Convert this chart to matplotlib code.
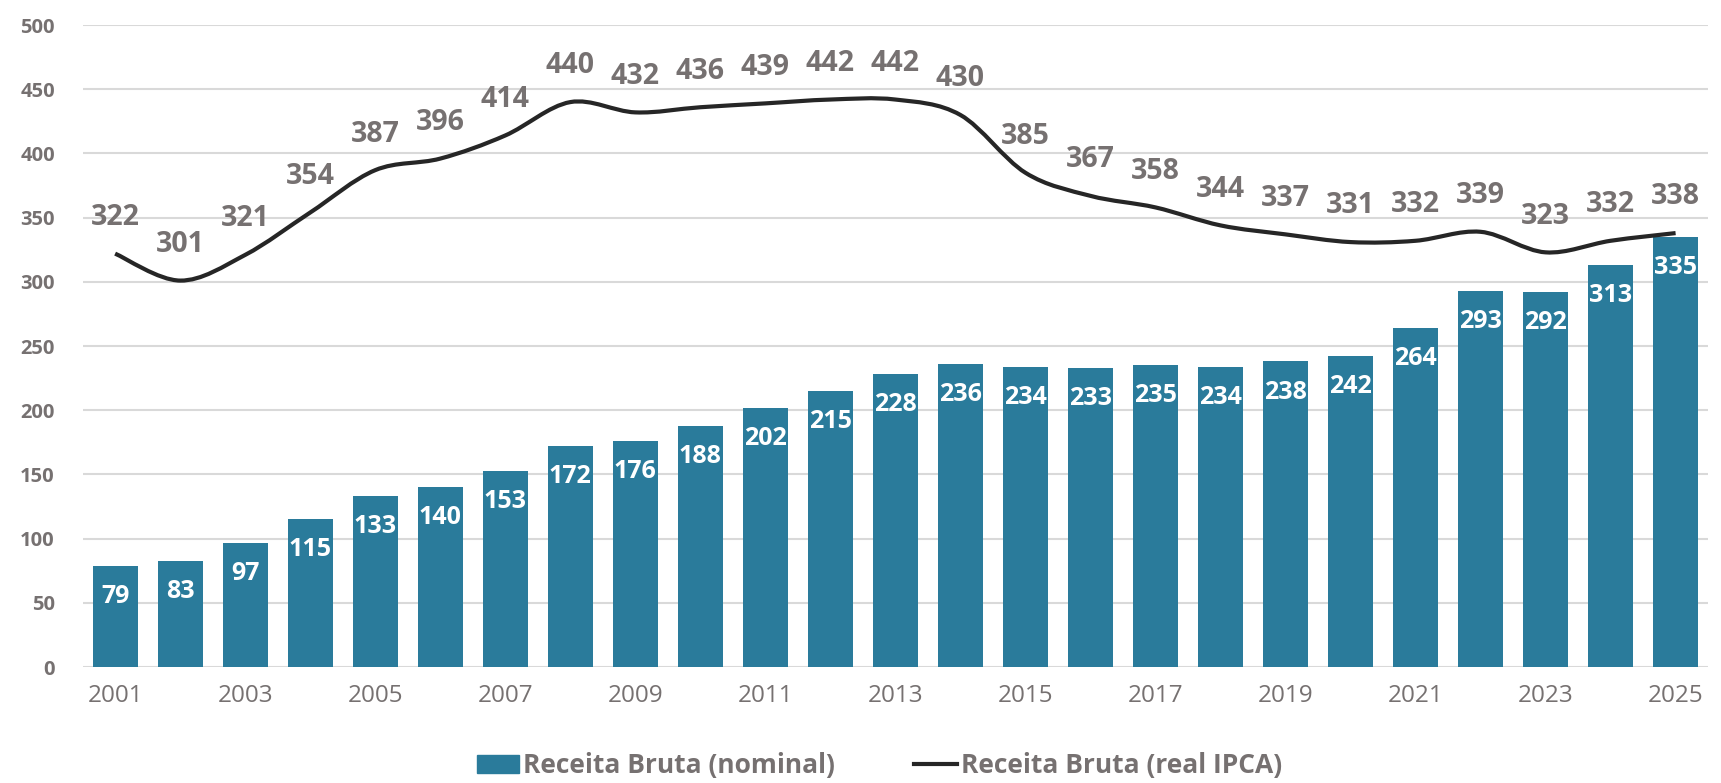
import numpy as np
import matplotlib
matplotlib.use('Agg')
import matplotlib.pyplot as plt
from matplotlib.path import Path
from matplotlib.patches import PathPatch, Patch
from matplotlib.lines import Line2D

plt.rcParams['font.family'] = ['Open Sans', 'DejaVu Sans']

years = list(range(2001, 2026))
nominal = [79, 83, 97, 115, 133, 140, 153, 172, 176, 188, 202, 215, 228,
           236, 234, 233, 235, 234, 238, 242, 264, 293, 292, 313, 335]
real_ipca = [322, 301, 321, 354, 387, 396, 414, 440, 432, 436, 439, 442, 442,
             430, 385, 367, 358, 344, 337, 331, 332, 339, 323, 332, 338]
xtick_labels = [str(y) for y in years[::2]]

bar_color = '#2A7B9B'
gray = '#767171'


def smooth_path(x, y, t=1 / 6):
    # bezier curve through the points (excel style smoothed line)
    x = np.asarray(x, float)
    y = np.asarray(y, float)
    n = len(x)
    verts = [(x[0], y[0])]
    codes = [Path.MOVETO]
    for i in range(n - 1):
        p0 = i - 1 if i > 0 else i
        p3 = i + 2 if i + 2 < n else i + 1
        c1 = (x[i] + (x[i + 1] - x[p0]) * t, y[i] + (y[i + 1] - y[p0]) * t)
        c2 = (x[i + 1] - (x[p3] - x[i]) * t, y[i + 1] - (y[p3] - y[i]) * t)
        verts += [c1, c2, (x[i + 1], y[i + 1])]
        codes += [Path.CURVE4] * 3
    return Path(verts, codes)


fig = plt.figure(figsize=(17.21, 7.83), dpi=100)
ax = fig.add_axes([0.048, 0.148, 0.9445, 0.82])

xs = np.arange(len(years))
ax.bar(xs, nominal, width=0.69, color=bar_color, zorder=2)
for x, v in zip(xs, nominal):
    ax.annotate(str(v), (x, v), xytext=(0, -22), textcoords='offset points',
                ha='center', va='center', color='white', fontsize=18,
                fontweight='bold', zorder=4)

ax.add_patch(PathPatch(smooth_path(xs, real_ipca), fill=False,
                       edgecolor='#262626', lw=3, zorder=3))
for x, v in zip(xs, real_ipca):
    ax.annotate(str(v), (x, v), xytext=(0, 26), textcoords='offset points',
                ha='center', va='center', color=gray, fontsize=20.5,
                fontweight='bold', zorder=4)

ax.set_xlim(-0.5, len(years) - 0.5)
ax.set_ylim(0, 500)
ax.set_yticks(range(0, 501, 50))
ax.set_xticks(xs[::2])
ax.set_xticklabels(xtick_labels)
ax.grid(axis='y', color='#D9D9D9', lw=1.5, zorder=0)
ax.set_axisbelow(True)
for s in ax.spines.values():
    s.set_visible(False)
ax.tick_params(axis='both', length=0)
ax.tick_params(axis='y', labelsize=14.5, labelcolor=gray, pad=20)
ax.tick_params(axis='x', labelsize=17.5, labelcolor=gray, pad=12)
for lab in ax.get_yticklabels():
    lab.set_fontweight('bold')

handles = [Patch(color=bar_color, label='Receita Bruta (nominal)'),
           Line2D([], [], color='#262626', lw=3, label='Receita Bruta (real IPCA)')]
leg = fig.legend(handles=handles, loc='center', bbox_to_anchor=(0.511, 0.022),
                 ncol=2, frameon=False, fontsize=19, handlelength=1.6,
                 handletextpad=0.15, columnspacing=3)
for t in leg.get_texts():
    t.set_color(gray)
    t.set_fontweight('bold')

fig.savefig('out.png', dpi=100)
